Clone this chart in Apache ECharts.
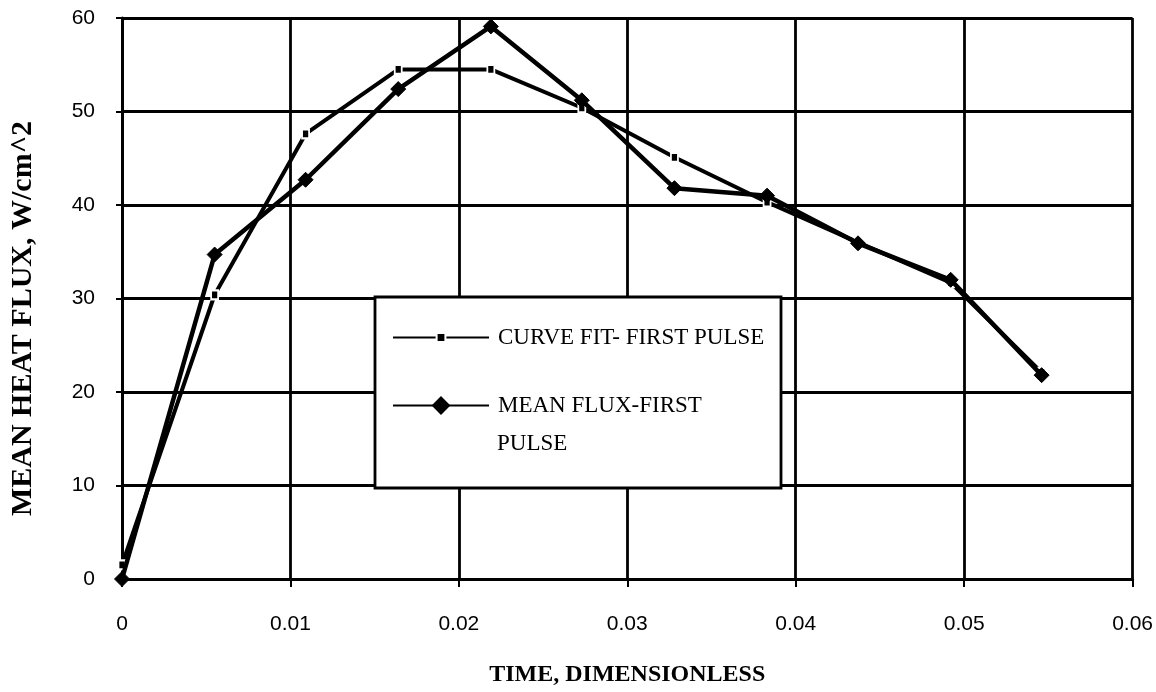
<!DOCTYPE html>
<html>
<head>
<meta charset="utf-8">
<script src="https://cdn.jsdelivr.net/npm/echarts@6/dist/echarts.min.js"></script>
<style>
  html, body { margin: 0; padding: 0; background: #fff; }
  #chart { width: 1156px; height: 692px; }
</style>
</head>
<body>
<div id="chart"></div>
<script>
// Dimensionless time samples shared by both series
const timeValues = [0, 0.0055, 0.0109, 0.0164, 0.0219, 0.0273, 0.0328, 0.0383, 0.0437, 0.0492, 0.0546];
// Curve fit of the first pulse, W/cm^2
const curveFit = [1.5, 30.4, 47.6, 54.5, 54.5, 50.4, 45.1, 40.3, 36.0, 31.7, 22.1];
// Measured mean heat flux of the first pulse, W/cm^2
const meanFlux = [0, 34.7, 42.7, 52.4, 59.1, 51.2, 41.8, 41.0, 35.9, 32.0, 21.8];

const xTicks = { min: 0, max: 0.06, interval: 0.01 };
const yTicks = { min: 0, max: 60, interval: 10 };

const curveName = 'CURVE FIT- FIRST PULSE';
const meanName = 'MEAN FLUX-FIRST PULSE';

const pairs = (xs, ys) => xs.map((x, i) => [x, ys[i]]);

const chart = echarts.init(document.getElementById('chart'), null, { renderer: 'canvas' });

const serif = '"Liberation Serif", "Times New Roman", serif';
const sans = '"Liberation Sans Narrow", "Liberation Sans", Arial, sans-serif';

const legendText = { fontFamily: serif, fontSize: 23, color: '#000', padding: [0, 0, 0, 4] };

chart.setOption({
  backgroundColor: '#fff',
  animation: false,
  grid: { left: 120, right: 23, top: 18, bottom: 113, containLabel: false },
  xAxis: {
    type: 'value',
    min: xTicks.min, max: xTicks.max, interval: xTicks.interval,
    name: 'TIME, DIMENSIONLESS',
    nameLocation: 'middle',
    nameGap: 84,
    nameTextStyle: { fontFamily: serif, fontWeight: 'bold', fontSize: 24, color: '#000' },
    axisLine: { show: true, onZero: false, lineStyle: { color: '#000', width: 3 } },
    axisTick: { show: true, length: 8, lineStyle: { color: '#000', width: 2 } },
    axisLabel: { margin: 35, fontFamily: sans, fontSize: 21, color: '#000',
      formatter: v => String(+v.toFixed(2)) },
    splitLine: { show: true, lineStyle: { color: '#000', width: 2.8 } }
  },
  yAxis: {
    type: 'value',
    min: yTicks.min, max: yTicks.max, interval: yTicks.interval,
    name: 'MEAN HEAT FLUX, W/cm^2',
    nameLocation: 'middle',
    nameGap: 84,
    nameTextStyle: { fontFamily: serif, fontWeight: 'bold', fontSize: 30, color: '#000',
      padding: [0, 40, 0, 0] },
    axisLine: { show: true, lineStyle: { color: '#000', width: 3 } },
    axisTick: { show: true, length: 6, lineStyle: { color: '#000', width: 2 } },
    axisLabel: { margin: 27, fontFamily: sans, fontSize: 21, color: '#000' },
    splitLine: { show: true, lineStyle: { color: '#000', width: 2.8 } }
  },
  legend: [
    {
      left: 392, top: 326, padding: 0,
      itemWidth: 96, itemHeight: 11,
      textStyle: legendText,
      data: [curveName],
      z: 60
    },
    {
      left: 392, top: 394, padding: 0,
      itemWidth: 96, itemHeight: 20,
      textStyle: legendText,
      formatter: () => 'MEAN FLUX-FIRST',
      data: [meanName],
      z: 60
    }
  ],
  graphic: [
    {
      type: 'rect',
      z: 50,
      shape: { x: 375, y: 297, width: 406, height: 191 },
      style: { fill: '#fff', stroke: '#000', lineWidth: 2.8 }
    },
    {
      type: 'text',
      left: 497, top: 432,
      z: 60,
      style: { text: 'PULSE', fontFamily: serif, fontSize: 23, fill: '#000' }
    }
  ],
  series: [
    {
      name: curveName,
      type: 'line',
      data: pairs(timeValues, curveFit),
      symbol: 'rect',
      symbolSize: [7, 9],
      showAllSymbol: true,
      lineStyle: { color: '#000', width: 4 },
      itemStyle: { color: '#000', borderColor: '#fff', borderWidth: 2 },
      z: 3
    },
    {
      name: meanName,
      type: 'line',
      data: pairs(timeValues, meanFlux),
      symbol: 'diamond',
      symbolSize: 15,
      showAllSymbol: true,
      lineStyle: { color: '#000', width: 4.5 },
      itemStyle: { color: '#000', borderColor: '#000', borderWidth: 1 },
      z: 4
    }
  ]
});
</script>
</body>
</html>
